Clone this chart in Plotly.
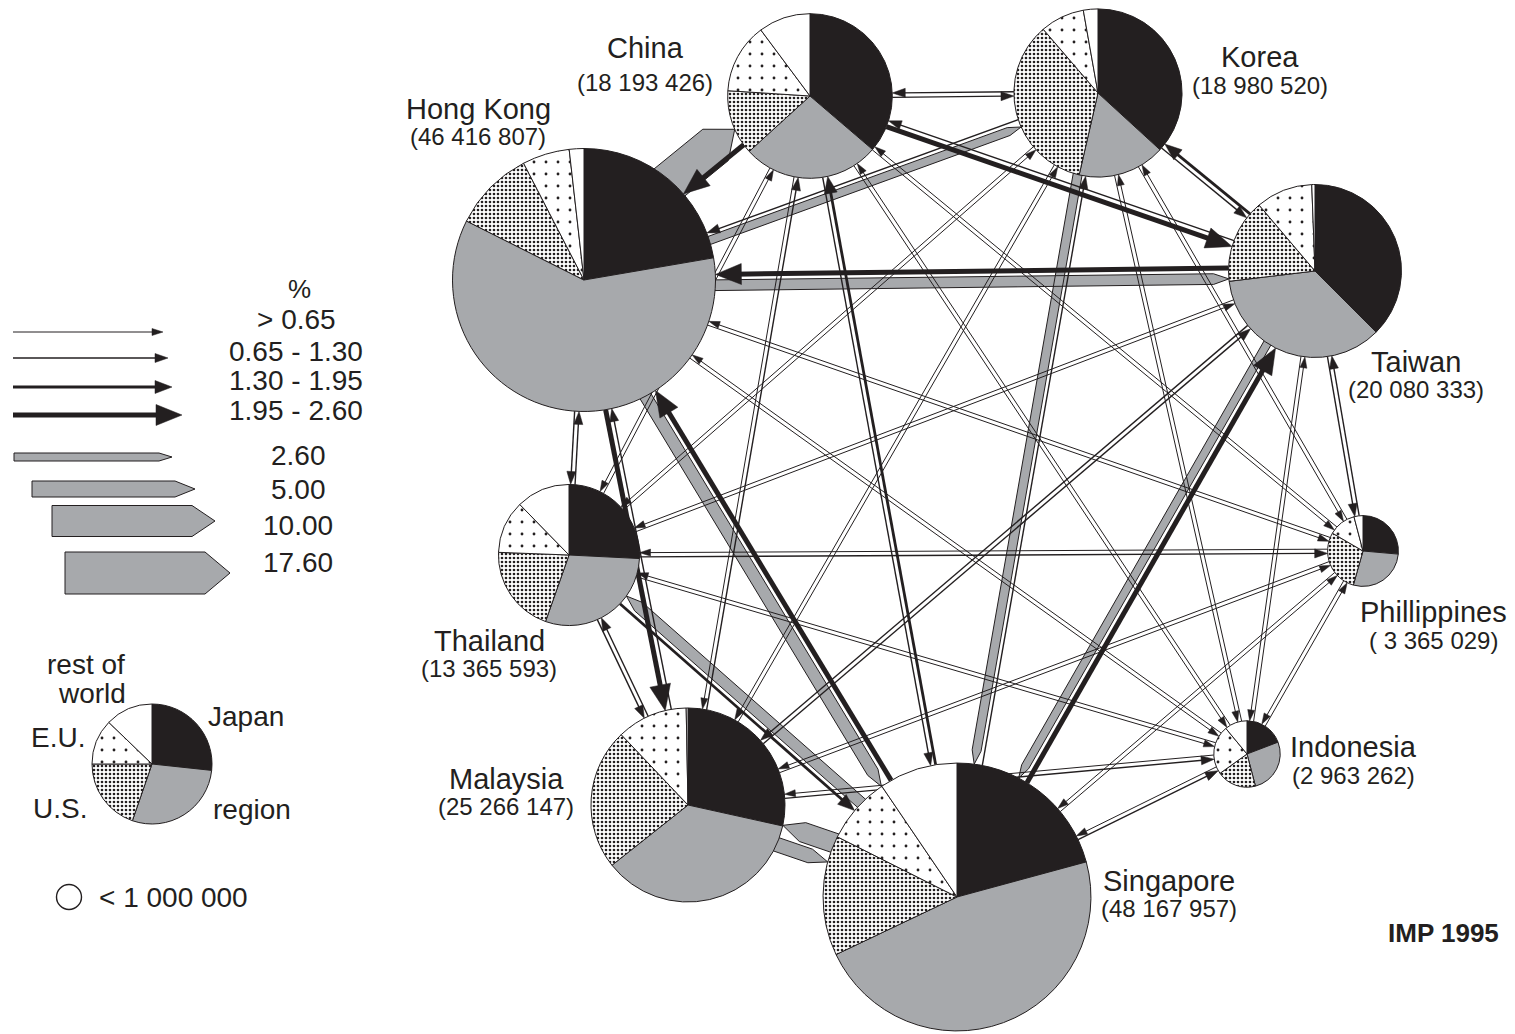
import numpy as np
import plotly.graph_objects as go

W, H = 1515, 1034
BLACK = "#231f20"
GRAY = "#a7a9ac"
FONT = "Liberation Sans, Arial, sans-serif"

# ---------------- data ----------------
countries = ["China", "Korea", "Taiwan", "Phillippines", "Indonesia",
             "Singapore", "Malaysia", "Thailand", "Hong Kong"]
total_imports = [18193426, 18980520, 20080333, 3365029, 2963262,
                 48167957, 25266147, 13365593, 46416807]
total_labels = ["(18 193 426)", "(18 980 520)", "(20 080 333)", "( 3 365 029)",
                "(2 963 262)", "(48 167 957)", "(25 266 147)", "(13 365 593)",
                "(46 416 807)"]
segments = ["Japan", "region", "U.S.", "E.U.", "rest of world"]
share_japan = [36.3, 36.8, 37.5, 26.4, 19.2, 20.8, 28.5, 25.8, 22.3]
share_region = [27.0, 16.8, 35.6, 28.0, 26.7, 47.2, 35.9, 29.6, 60.1]
share_us = [12.8, 35.1, 15.7, 29.0, 19.2, 14.5, 23.6, 20.2, 10.0]
share_eu = [13.8, 8.5, 10.6, 12.5, 23.9, 8.1, 11.8, 12.1, 5.8]
share_rest = [10.2, 2.8, 0.6, 4.1, 11.0, 9.5, 0.3, 12.3, 1.8]
legend_shares = [26.7, 28.6, 19.7, 12.2, 12.8]

# bilateral flows (% of total): pair_a -> pair_b = pct_ab, pair_b -> pair_a = pct_ba
pair_a = ["China", "China", "China", "China", "China", "China", "China", "China",
          "Korea", "Korea", "Korea", "Korea", "Korea", "Korea", "Korea",
          "Taiwan", "Taiwan", "Taiwan", "Taiwan", "Taiwan", "Taiwan",
          "Phillippines", "Phillippines", "Phillippines", "Phillippines", "Phillippines",
          "Indonesia", "Indonesia", "Indonesia", "Indonesia",
          "Singapore", "Singapore", "Singapore",
          "Malaysia", "Malaysia", "Thailand"]
pair_b = ["Korea", "Taiwan", "Phillippines", "Indonesia", "Singapore", "Malaysia", "Thailand", "Hong Kong",
          "Taiwan", "Phillippines", "Indonesia", "Singapore", "Malaysia", "Thailand", "Hong Kong",
          "Phillippines", "Indonesia", "Singapore", "Malaysia", "Thailand", "Hong Kong",
          "Indonesia", "Singapore", "Malaysia", "Thailand", "Hong Kong",
          "Singapore", "Malaysia", "Thailand", "Hong Kong",
          "Malaysia", "Thailand", "Hong Kong",
          "Thailand", "Hong Kong", "Hong Kong"]
pct_ab = [1.0, 2.3, 0.4, 0.5, 0.9, 0.5, 0.5, 2.3,
          1.0, 0.4, 0.5, 2.9, 0.5, 0.5, 1.0,
          0.9, 0.5, 2.6, 0.9, 0.5, 2.3,
          0.4, 0.5, 0.4, 0.4, 0.5,
          0.5, 0.5, 0.4, 0.5,
          6.3, 3.6, 2.3,
          1.0, 1.0, 0.9]
pct_ba = [1.0, 1.0, 0.4, 0.5, 1.6, 1.0, 0.5, 16.5,
          1.6, 0.4, 0.5, 1.0, 0.5, 0.5, 2.7,
          0.9, 0.5, 2.3, 1.0, 0.5, 3.4,
          0.3, 0.5, 0.5, 1.0, 0.5,
          0.9, 0.9, 0.5, 0.5,
          4.5, 1.6, 3.8,
          1.0, 2.3, 0.9]

class_edges = [0.65, 1.30, 1.95, 2.60]
class_labels = ["> 0.65", "0.65 - 1.30", "1.30 - 1.95", "1.95 - 2.60"]
gray_levels = [2.60, 5.00, 10.00, 17.60]
gray_labels = ["2.60", "5.00", "10.00", "17.60"]

# ---------------- layout / style ----------------
node_xy = {"China": (810, 96), "Korea": (1098, 93), "Taiwan": (1315, 271),
           "Phillippines": (1363, 551), "Indonesia": (1247, 754),
           "Singapore": (957, 897), "Malaysia": (688, 805),
           "Thailand": (569, 555), "Hong Kong": (584, 280)}
label_xy = {"China": (645, 48, 82), "Korea": (1260, 57, 85), "Taiwan": (1416, 362, 389),
            "Phillippines": (1433, 612, 640), "Indonesia": (1353, 747, 775),
            "Singapore": (1169, 881, 908), "Malaysia": (506, 779, 806),
            "Thailand": (489, 641, 668), "Hong Kong": (478, 109, 136)}
R_PER_SQRT_MILLION = 19.3
flip_side = {("Hong Kong", "China")}

LW = [1.0, 1.4, 2.8, 5.0]
HL = [11, 13, 17, 26]
HW = [3.5, 4.5, 6.5, 10.5]
GRAY_W = [8, 16, 31, 42]
GRAY_TIP = [13, 20, 23, 25]


def radius(name):
    return R_PER_SQRT_MILLION * np.sqrt(total_imports[countries.index(name)] / 1e6)


def category(v):
    return int(np.searchsorted(class_edges, v, side="right"))


line_xy = {c: ([], []) for c in range(4)}
head_xy = ([], [])
gray_xy = ([], [])


def add_poly(store, pts):
    for p in pts:
        store[0].append(p[0])
        store[1].append(p[1])
    store[0].append(pts[0][0])
    store[1].append(pts[0][1])
    store[0].append(None)
    store[1].append(None)


def black_arrow(a, b, cat):
    a = np.asarray(a, float)
    b = np.asarray(b, float)
    d = b - a
    u = d / np.hypot(*d)
    n = np.array([-u[1], u[0]])
    e = b - u * HL[cat] * 0.7
    line_xy[cat][0].extend([a[0], e[0], None])
    line_xy[cat][1].extend([a[1], e[1], None])
    base = b - u * HL[cat]
    add_poly(head_xy, [b, base + n * HW[cat], base - n * HW[cat]])


def gray_width(value):
    return np.interp(value, gray_levels, GRAY_W)


def gray_arrow(tail, tip, value):
    tail = np.asarray(tail, float)
    tip = np.asarray(tip, float)
    d = tip - tail
    u = d / np.hypot(*d)
    n = np.array([-u[1], u[0]])
    w = gray_width(value) / 2
    tl = np.interp(2 * w, GRAY_W, GRAY_TIP)
    base = tip - u * tl
    add_poly(gray_xy, [tail + n * w, base + n * w, tip, base - n * w, tail - n * w])


def flow(src, dst, value):
    p = np.array(node_xy[src], float)
    q = np.array(node_xy[dst], float)
    rp, rq = radius(src), radius(dst)
    d = q - p
    u = d / np.hypot(*d)
    n = np.array([-u[1], u[0]])
    cat = category(value)
    if cat < 4:
        off = 1.5 + LW[cat] / 2
    else:
        off = 1.5 + gray_width(value) / 2
    if (src, dst) in flip_side:
        off = -off
    sp = np.sqrt(max(rp ** 2 - off ** 2, 0))
    sq = np.sqrt(max(rq ** 2 - off ** 2, 0))
    a = p + n * off + u * sp
    b = q + n * off - u * sq
    if cat < 4:
        black_arrow(a, b, cat)
    else:
        gray_arrow(p + n * off + u * sp * 0.3, b, value)


for A, B, ab, ba in zip(pair_a, pair_b, pct_ab, pct_ba):
    flow(A, B, ab)
    flow(B, A, ba)

# legend arrows
leg_black_y = [332, 358, 387, 415]
leg_black_x1 = [163, 168, 172, 182]
for i, (yy, x1) in enumerate(zip(leg_black_y, leg_black_x1)):
    black_arrow((13, yy), (x1, yy), i)
leg_gray_y = [457, 489, 521, 573]
leg_gray_x0 = [14, 32, 52, 65]
leg_gray_x1 = [172, 195, 215, 230]
for v, yy, x0, x1 in zip(gray_levels, leg_gray_y, leg_gray_x0, leg_gray_x1):
    gray_arrow((x0, yy), (x1, yy), v)

fig = go.Figure()
fig.add_trace(go.Scatter(x=gray_xy[0], y=gray_xy[1], mode="lines", fill="toself",
                         fillcolor=GRAY, line=dict(color=BLACK, width=1),
                         hoverinfo="skip", showlegend=False))
for c in range(4):
    fig.add_trace(go.Scatter(x=line_xy[c][0], y=line_xy[c][1], mode="lines",
                             line=dict(color=BLACK, width=LW[c]),
                             hoverinfo="skip", showlegend=False))
fig.add_trace(go.Scatter(x=head_xy[0], y=head_xy[1], mode="lines", fill="toself",
                         fillcolor=BLACK, line=dict(color=BLACK, width=0.5),
                         hoverinfo="skip", showlegend=False))

pattern = dict(shape=["", "", ".", ".", ""], size=[4, 4, 4, 12, 4],
               solidity=[0.35, 0.35, 0.35, 0.045, 0.35], fgcolor=BLACK, fillmode="replace")
slice_colors = [BLACK, GRAY, "white", "white", "white"]


def add_pie(values, cx, cy, r):
    fig.add_trace(go.Pie(
        values=values, labels=segments, sort=False, direction="clockwise", rotation=0,
        textinfo="none", hoverinfo="skip", showlegend=False,
        domain=dict(x=[(cx - r) / W, (cx + r) / W],
                    y=[max(0, 1 - (cy + r) / H), min(1, 1 - (cy - r) / H)]),
        marker=dict(colors=slice_colors, line=dict(color=BLACK, width=1),
                    pattern=pattern)))


for i, c in enumerate(countries):
    vals = [share_japan[i], share_region[i], share_us[i], share_eu[i], share_rest[i]]
    cx, cy = node_xy[c]
    add_pie(vals, cx, cy, radius(c))

add_pie(legend_shares, 152, 764, 60)

# small open circle symbol in legend
fig.add_trace(go.Scatter(x=[69], y=[897], mode="markers",
                         marker=dict(symbol="circle-open", size=25,
                                     line=dict(color=BLACK, width=1.4), color=BLACK),
                         hoverinfo="skip", showlegend=False))

ann = []


def text(x, y, s, size=29, anchor="center", bold=False):
    ann.append(dict(x=x, y=y, xref="x", yref="y", text=("<b>%s</b>" % s) if bold else s,
                    showarrow=False, xanchor=anchor, yanchor="middle",
                    font=dict(family=FONT, size=size, color=BLACK)))


for i, c in enumerate(countries):
    lx, ly1, ly2 = label_xy[c]
    text(lx, ly1, c, 29)
    text(lx, ly2, total_labels[i], 24)

text(299, 289, "%", 26)
for s, yy in zip(class_labels, [319, 351, 380, 410]):
    text(296, yy, s, 28)
for s, yy in zip(gray_labels, [455, 489, 525, 562]):
    text(298, yy, s, 28)

text(86, 664, "rest of", 28)
text(92, 693, "world", 28)
text(58, 737, "E.U.", 28)
text(246, 716, "Japan", 28)
text(60, 808, "U.S.", 28)
text(252, 809, "region", 28)
text(97, 897, "&lt; 1 000 000", 28, anchor="left")
text(1443, 933, "IMP 1995", 26, bold=True)

fig.update_layout(
    width=W, height=H, margin=dict(l=0, r=0, t=0, b=0),
    paper_bgcolor="white", plot_bgcolor="white",
    xaxis=dict(range=[0, W], visible=False, fixedrange=True),
    yaxis=dict(range=[H, 0], visible=False, fixedrange=True),
    annotations=ann,
)
fig.write_html("out.html")
